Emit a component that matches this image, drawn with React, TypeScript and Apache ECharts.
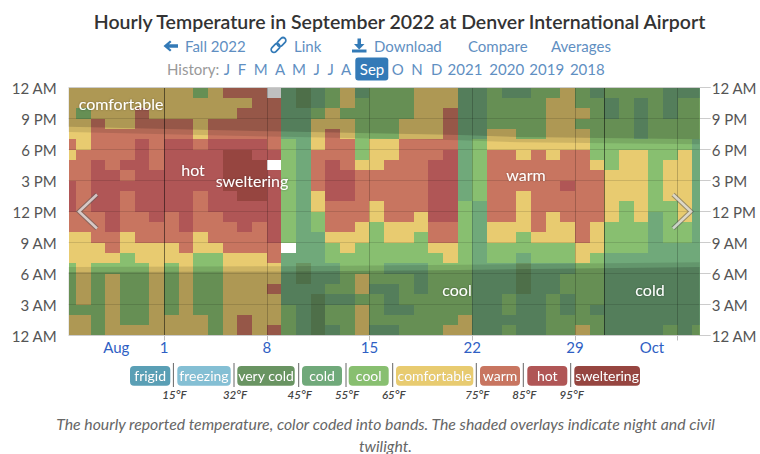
import React, { useEffect, useRef } from "react";
import * as echarts from "echarts";

const FONT = "Lato";
const BLUE = "#337ab7";
const LINK = "#5f8fc2";

const title = "Hourly Temperature in September 2022 at Denver International Airport";
const caption1 = "The hourly reported temperature, color coded into bands. The shaded overlays indicate night and civil";
const caption2 = "twilight.";

const bandNames = ["frigid", "freezing", "very cold", "cold", "cool", "comfortable", "warm", "hot", "sweltering"];
const bandColors = ["#5a9fb5", "#84bfd4", "#699462", "#70a97a", "#88bf70", "#e8cb70", "#c87560", "#b05656", "#964540"];
const thresholds = ["15°F", "32°F", "45°F", "55°F", "65°F", "75°F", "85°F", "95°F"];
const bandCodes: Record<string, number> = { v: 2, c: 3, k: 4, f: 5, w: 6, h: 7, s: 8 };

// One string per hour, top row (11 PM) first. One letter per day; "." is a missing hour.
// Days are grouped by weeks: Aug 25-31 | Sep 1-7 | Sep 8-14 | Sep 15-21 | Sep 22-28 | Sep 29-Oct 5 | Oct 6-7
const hourRows = [
  "fffffff ffkfwww .cvckfc kkkfffc ckcckkf kckkkkc cc",
  "fffffff ffffffw wcvckfk kkkfffc ckkkkff kkckckc kk",
  "fkfffwf fffffww wcckfkk kkkffwc ckkkkff fkckckc kk",
  "ffwffww wwfwwww wccfffk kkfffwc ckkkkff kkkkckk kk",
  "ffwwwww wwfwwww wccfwfk kkfffwc cffkkff fkkkckk kk",
  "wfwwwhw hhwhhhh wkcfwwk ffwwwwc kffffff fkkkkkk kc",
  "fwwwwhw hhhhssh hkcwwwk ffwwwhc kwwfwfw wkkffkk fc",
  "wwhwhhw hhhhsss .kcwhwf fwwwhhc kwwwwww wfkffkf fc",
  "wwhhwhh hhhhsss hkcwhhw wwwwhhc kwwwwww wwfffkf fc",
  "hwhhhhh hhhhsss hkcwhhw wwwwhhc kwwwwwh wwfffkf fc",
  "hwhhwhh hhwhhss hkcfhhw wwwwhhc kwwfwww wwfffkf fc",
  "hwhhwhh hhwhhhh hkcfwww fwwwhhk cwwfwww wwfkfkk fc",
  "wwwhwwh whwwhhh hkckwww fwwfhhk cwwfwfw wwfkfck fc",
  "wwwhwww whwwwhw hkckwwf kfffwwk cfffwff wfkkkck kc",
  "ffwwfww wwfwwww hkccfff kffkwwk cffkfff wfkkkck kc",
  "fffwfff fwffwww w.cckfk kkkkffk ckkkkkk ffkkkcc cc",
  "ffffkff ffkkfff wccckkk kkkkkfk ckkckkk fkccccc cc",
  "kfkkkkf kfkkfff fcvcckk kccckkk cccvccc kkccccc cc",
  "kfkfkkf kfkkfff fcvcckf kkkckkk cccvcck kkccccc cc",
  "kfkfkkf kfkkfff wccckkf cckckkk cccvcck kkccccc cc",
  "kfkfkkf kfkkfff fccvcck kckkkkk cckcckc kkccccc cc",
  "kkkfkkf kfkkfff fkcvkkf kcckkkk cckcckc kcccccc cc",
  "ffkfkkf fffkfwf fkcvkkf kkkkkkf ccccckk kkccccc cc",
  "ffkffff fffkfwf wkcvckf cckkkff cckcckk fkcccck ck",
];

const firstDay = -7; // Aug 25, relative to Sep 1
const xMin = -6.5;
const xMax = 36.5;
const weekTicks = [0, 7, 14, 21, 28, 35];
const monthLines = [0, 30];
const xLabelValues = [-3.25, 0, 7, 14, 21, 28, 33.25];
const xLabelTexts = ["Aug", "1", "8", "15", "22", "29", "Oct"];
const hourTicks = [0, 3, 6, 9, 12, 15, 18, 21, 24];
const hourLabels = ["12 AM", "3 AM", "6 AM", "9 AM", "12 PM", "3 PM", "6 PM", "9 PM", "12 AM"];

// Read from the overlay edges: [day, hour]
const duskNightEdge = [[-6.5, 20.2], [2.4, 19.9], [8.1, 19.73], [20.1, 19.4], [24.2, 19.2], [36.5, 19.0]];
const duskCivilEdge = [[-6.5, 19.7], [2.4, 19.4], [8.1, 19.23], [20.1, 18.9], [24.2, 18.7], [36.5, 18.5]];
const dawnNightEdge = [[-6.5, 6.15], [8.1, 6.2], [20.1, 6.35], [36.5, 6.63]];
const dawnCivilEdge = [[-6.5, 6.63], [8.1, 6.7], [20.1, 6.85], [36.5, 7.1]];

const chartLabels: [string, number, number][] = [
  ["comfortable", 121, 103],
  ["hot", 193, 169],
  ["sweltering", 252, 180],
  ["warm", 526, 174],
  ["cool", 457, 289],
  ["cold", 650, 289],
];

const navItems: [string, number][] = [
  ["Fall 2022", 185],
  ["Link", 294],
  ["Download", 374],
  ["Compare", 468],
  ["Averages", 551],
];
const historyItems: [string, number][] = [
  ["J", 227], ["F", 242], ["M", 260.7], ["A", 280], ["M", 299], ["J", 316.7], ["J", 330.7], ["A", 346],
  ["O", 397.7], ["N", 417], ["D", 436.7], ["2021", 465], ["2020", 506.7], ["2019", 546.7], ["2018", 587.3],
];

const legendBoxes = [
  [130, 170.3], [177.3, 230.7], [237.3, 294.7], [302, 342], [348.7, 388.7],
  [396, 473.3], [480, 520], [527.3, 567.3], [574.3, 640],
];
const legendSeps = [173.4, 234, 298.7, 346, 392.7, 476.3, 523.3, 570.7];

function cellData() {
  const out: number[][] = [];
  hourRows.forEach((row, r) => {
    const hour = 23 - r;
    row.split(" ").join("").split("").forEach((ch, c) => {
      if (ch === ".") return;
      out.push([firstDay + c, hour, firstDay + c + 1, bandCodes[ch]]);
    });
  });
  return out;
}

function txt(text: string, x: number, y: number, o: any = {}) {
  return {
    type: "text",
    x,
    y,
    z: 100,
    silent: true,
    style: {
      text,
      fontFamily: FONT,
      fontSize: 14,
      fill: "#333",
      textAlign: "center",
      textVerticalAlign: "middle",
      ...o,
    },
  };
}

function buildGraphics() {
  const g: any[] = [];
  g.push(txt(title, 399.5, 21, { fontSize: 19.5, fontWeight: 600, fill: "#333" }));

  navItems.forEach(([s, x]) => g.push(txt(s, x, 46, { fill: LINK, fontSize: 15, textAlign: "left" })));
  g.push({
    type: "polygon", z: 100, silent: true,
    shape: { points: [[163.5, 46], [170, 40.5], [171.5, 42], [169, 44.3], [178, 44.3], [178, 47.7], [169, 47.7], [171.5, 50], [170, 51.5]] },
    style: { fill: BLUE },
  });
  [[275.5, 48], [281.5, 42]].forEach(([cx, cy]) =>
    g.push({
      type: "rect", z: 100, silent: true, x: cx, y: cy, rotation: Math.PI / 4,
      shape: { x: -5, y: -2.8, width: 10, height: 5.6, r: 2.8 },
      style: { fill: "none", stroke: BLUE, lineWidth: 1.7 },
    })
  );
  g.push({
    type: "polygon", z: 100, silent: true,
    shape: { points: [[357.5, 38.5], [361, 38.5], [361, 44], [364.5, 44], [359.2, 49.5], [354, 44], [357.5, 44]] },
    style: { fill: BLUE },
  });
  g.push({ type: "rect", z: 100, silent: true, shape: { x: 352, y: 49.5, width: 14.5, height: 3 }, style: { fill: BLUE } });

  g.push(txt("History:", 167, 69, { fill: "#999", fontSize: 15, textAlign: "left" }));
  historyItems.forEach(([s, x]) => g.push(txt(s, x, 69, { fill: LINK, fontSize: 15 })));
  g.push({
    type: "rect", z: 100, silent: true,
    shape: { x: 355.3, y: 57.5, width: 33, height: 23, r: 3 },
    style: { fill: BLUE },
  });
  g.push(txt("Sep", 372, 69, { fill: "#fff", fontSize: 15 }));
  g[g.length - 1].z = 101;

  // Band labels on the chart
  chartLabels.forEach(([s, x, y]) =>
    g.push(txt(s, x, y, { fill: "#fff", fontSize: 16, textShadowColor: "rgba(0,0,0,0.35)", textShadowBlur: 2 }))
  );

  // Chevrons
  const chevrons = [
    [[97, 194.5], [79, 211.5], [97, 228.5]],
    [[673, 194.5], [691, 211.5], [673, 228.5]],
  ];
  chevrons.forEach((points) => {
    g.push({
      type: "polyline", z: 100, silent: true, shape: { points },
      style: { stroke: "rgba(90,90,90,0.55)", lineWidth: 4.5, fill: "none" },
    });
    g.push({
      type: "polyline", z: 100, silent: true, shape: { points },
      style: { stroke: "rgba(255,255,255,0.65)", lineWidth: 2.5, fill: "none" },
    });
  });

  // Legend
  legendBoxes.forEach(([a, b], i) => {
    g.push({
      type: "rect", z: 100, silent: true,
      shape: { x: a, y: 366, width: b - a, height: 19.7, r: 4 },
      style: { fill: bandColors[i] },
    });
    const t = txt(bandNames[i], (a + b) / 2, 375.5, { fill: "#fff", fontSize: 14, textShadowColor: "rgba(0,0,0,0.3)", textShadowBlur: 1 });
    t.z = 101;
    g.push(t);
  });
  legendSeps.forEach((x, i) => {
    g.push({
      type: "line", z: 100, silent: true,
      shape: { x1: x, y1: 363, x2: x, y2: 387 },
      style: { stroke: "#666", lineWidth: 1 },
    });
    g.push(txt(thresholds[i], x + 1, 394, { fontSize: 11.5, fontStyle: "italic", fontWeight: 600, fill: "#444" }));
  });

  g.push(txt(caption1, 385.5, 423, { fontStyle: "italic", fontSize: 15.8, fill: "#666" }));
  g.push(txt(caption2, 385.5, 445, { fontStyle: "italic", fontSize: 15.8, fill: "#666" }));
  return g;
}

function lookup(value: number, keys: number[], texts: string[]) {
  const i = keys.findIndex((k) => Math.abs(k - value) < 1e-6);
  return i >= 0 ? texts[i] : "";
}

function yAxis(position: "left" | "right") {
  return {
    type: "value",
    position,
    min: 0,
    max: 24,
    interval: 3,
    axisLine: { show: false },
    axisTick: { show: true, length: 11, lineStyle: { color: "#ccc" } },
    splitLine: { show: false },
    axisLabel: {
      margin: 12,
      color: "#555",
      fontFamily: FONT,
      fontSize: 15,
      formatter: (v: number) => lookup(v, hourTicks, hourLabels),
    },
  };
}

function band(top: number[][], bottom: number[][]) {
  return { top, bottom };
}

export default function App() {
  const ref = useRef<HTMLDivElement>(null);
  useEffect(() => {
    const chart = echarts.init(ref.current!, undefined, { renderer: "svg" });
    const nightTop = [[xMin, 24], [xMax, 24]];
    const nightBottom = [[xMin, 0], [xMax, 0]];
    const overlays = [
      { ...band(nightTop, duskNightEdge), a: 0.25 },
      { ...band(duskNightEdge, duskCivilEdge), a: 0.11 },
      { ...band(dawnCivilEdge, dawnNightEdge), a: 0.11 },
      { ...band(dawnNightEdge, nightBottom), a: 0.25 },
    ];
    chart.setOption({
      animation: false,
      textStyle: { fontFamily: FONT },
      grid: { left: 68.65, right: 59.25, top: 87.5, bottom: 118.5, containLabel: false },
      xAxis: {
        type: "value",
        min: xMin,
        max: xMax,
        axisLine: { show: false },
        splitLine: { show: false },
        axisTick: { show: true, length: 5, customValues: weekTicks, lineStyle: { color: "#bbb" } },
        axisLabel: {
          show: true,
          customValues: xLabelValues,
          margin: 4,
          color: "#2f5fc4",
          fontFamily: FONT,
          fontSize: 15,
          formatter: (v: number) => lookup(v, xLabelValues, xLabelTexts),
        },
      },
      yAxis: [yAxis("left"), yAxis("right")],
      series: [
        {
          type: "custom",
          z: 2,
          clip: true,
          silent: true,
          encode: { x: [0, 2], y: 1 },
          data: cellData(),
          renderItem: (_p: any, api: any) => {
            const a = api.coord([Math.max(api.value(0), xMin), api.value(1) + 1]);
            const b = api.coord([Math.min(api.value(2), xMax), api.value(1)]);
            const x0 = Math.round(a[0]);
            const y0 = Math.round(a[1]);
            return {
              type: "rect",
              shape: { x: x0, y: y0, width: Math.round(b[0]) - x0, height: Math.round(b[1]) - y0 },
              style: { fill: bandColors[api.value(3)] },
            };
          },
        },
        {
          type: "custom",
          z: 3,
          silent: true,
          clip: false,
          data: [[0, 0]],
          renderItem: (_p: any, api: any) => ({
            type: "group",
            children: overlays.map((o) => ({
              type: "polygon",
              shape: {
                points: [...o.top, ...[...o.bottom].reverse()].map((p) => api.coord(p)),
              },
              style: { fill: `rgba(0,0,0,${o.a})` },
            })),
          }),
          markLine: {
            silent: true,
            symbol: "none",
            label: { show: false },
            animation: false,
            data: [
              ...weekTicks
                .filter((d) => !monthLines.includes(d))
                .map((d) => ({ xAxis: d, lineStyle: { color: "rgba(0,0,0,0.2)", width: 1, type: "solid" } })),
              ...monthLines.map((d) => ({ xAxis: d, lineStyle: { color: "rgba(0,0,0,0.5)", width: 1, type: "solid" } })),
              ...hourTicks.slice(1, -1).map((h) => ({ yAxis: h, lineStyle: { color: "rgba(0,0,0,0.12)", width: 1, type: "solid" } })),
              ...[0, 24].map((h) => ({ yAxis: h, lineStyle: { color: "#ccc", width: 1, type: "solid" } })),
            ],
          },
        },
      ],
      graphic: { elements: buildGraphics() },
    });
    return () => chart.dispose();
  }, []);
  return <div ref={ref} style={{ position: "fixed", left: 0, top: 0, width: 760, height: 454, background: "#fff" }} />;
}
